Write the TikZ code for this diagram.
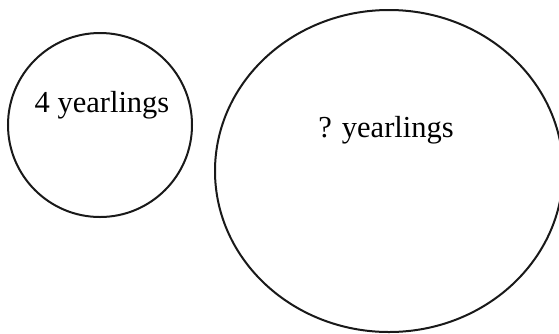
\documentclass[tikz,border=0pt]{standalone}
\usepackage{fontspec}
\setmainfont{Liberation Serif}
\usetikzlibrary{shapes.geometric}
\begin{document}
\begin{tikzpicture}[x=1pt,y=-1pt,
  ring/.style={draw=black!90, line width=2pt},
  lbl/.style={anchor=base, inner sep=0pt, font=\fontsize{30.5}{36}\selectfont}]
\useasboundingbox (0,0) rectangle (559,333);
\clip (0,0) rectangle (559,333);
\fill[white] (0,0) rectangle (559,333);
\node[ring, circle, minimum size=184pt, inner sep=0pt] (small) at (100,125) {};
\node[ring, ellipse, minimum width=348pt, minimum height=322pt, inner sep=0pt] (big) at (389,171) {};
\node[lbl] (t1) at (102,112) {4 yearlings};
\node[lbl] (t2) at (386,137) {? yearlings};
\end{tikzpicture}
\end{document}
